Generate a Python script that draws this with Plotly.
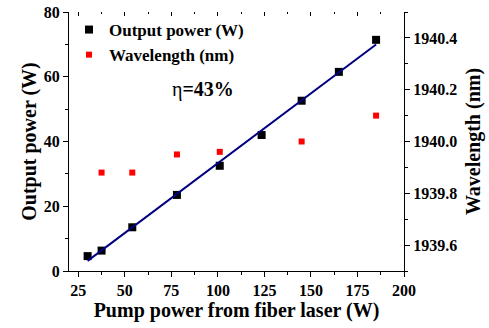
import numpy as np
import plotly.graph_objects as go

pump_power = [30, 37.5, 54, 78, 101, 123.5, 145, 165, 185]
output_power = [4.6, 6.3, 13.5, 23.5, 32.5, 42.0, 52.6, 61.5, 71.4]

wl_pump = [37.5, 54, 78, 101, 145, 185]
wavelength = [1939.88, 1939.88, 1939.95, 1939.96, 1940.00, 1940.10]

x_ticks = [25, 50, 75, 100, 125, 150, 175, 200]
y_ticks = [0, 20, 40, 60, 80]
y2_ticks = [1939.6, 1939.8, 1940.0, 1940.2, 1940.4]

slope, intercept = np.polyfit(pump_power, output_power, 1)
fit_x = [pump_power[0], pump_power[-1]]
fit_y = [slope * v + intercept for v in fit_x]

FONT = "Liberation Serif"

fig = go.Figure()
fig.add_trace(go.Scatter(x=pump_power, y=output_power, mode="markers",
                         marker=dict(symbol="square", size=8, color="black"),
                         name="<b>Output power (W)</b>"))
fig.add_trace(go.Scatter(x=wl_pump, y=wavelength, mode="markers", yaxis="y2",
                         marker=dict(symbol="square", size=6, color="#ff0000"),
                         name="<b>Wavelength (nm)</b>"))
fig.add_trace(go.Scatter(x=fit_x, y=fit_y, mode="lines",
                         line=dict(color="#000080", width=2), showlegend=False))
# top axis ticks (inside)
fig.add_trace(go.Scatter(x=[None], y=[None], xaxis="x2", showlegend=False))

axis_common = dict(showline=True, linecolor="black", linewidth=1.3, ticks="outside",
                   tickcolor="black", ticklen=5, tickwidth=1, showgrid=False, zeroline=False,
                   automargin=False, ticklabeloverflow="allow",
                   tickfont=dict(family=FONT, size=16, color="black"))

fig.update_layout(
    width=489, height=328,
    margin=dict(l=69, r=85, t=12, b=57),
    plot_bgcolor="white", paper_bgcolor="white",
    font=dict(family=FONT, color="black"),
    xaxis=dict(range=[20, 200], tickvals=x_ticks,
               ticktext=[f"<b>{v}</b>" for v in x_ticks],
               minor=dict(ticks="outside", ticklen=3, tickcolor="black", dtick=12.5, tick0=12.5),
               title=dict(text="<b>Pump power from fiber laser (W)</b>",
                          font=dict(family=FONT, size=20), standoff=4),
               **axis_common),
    xaxis2=dict(range=[20, 200], overlaying="x", side="top", tickvals=x_ticks,
                showticklabels=False, showline=False, ticks="inside", ticklen=4,
                tickcolor="black", showgrid=False, zeroline=False, automargin=False,
                minor=dict(ticks="inside", ticklen=2, tickcolor="black", dtick=12.5, tick0=12.5)),
    yaxis=dict(range=[0, 80], tickvals=y_ticks,
               ticktext=[f"<b>{v}</b>" for v in y_ticks],
               minor=dict(ticks="outside", ticklen=3, tickcolor="black", dtick=10),
               title=dict(text="<b>Output power (W)</b>",
                          font=dict(family=FONT, size=20), standoff=1),
               **axis_common),
    yaxis2=dict(range=[1939.5, 1940.5], overlaying="y", side="right", tickvals=y2_ticks,
                ticktext=[f"<b>{v:.1f}</b>" for v in y2_ticks],
                minor=dict(ticks="outside", ticklen=3, tickcolor="black", dtick=0.1),
                title=dict(text="<b>Wavelength (nm)</b>",
                           font=dict(family=FONT, size=20), standoff=9),
                **axis_common),
    legend=dict(x=0.0, y=1.0, xanchor="left", yanchor="top",
                font=dict(family=FONT, size=17, color="black"),
                bgcolor="rgba(0,0,0,0)", itemwidth=30, tracegroupgap=0),
    annotations=[dict(x=74, y=56, xref="x", yref="y", xanchor="left", yanchor="middle",
                      text="η<b>=43%</b>", showarrow=False,
                      font=dict(family=FONT, size=20, color="black"))],
)

fig.write_html("out.html", config={"displayModeBar": False},
               post_script="document.body.style.margin='0';")
